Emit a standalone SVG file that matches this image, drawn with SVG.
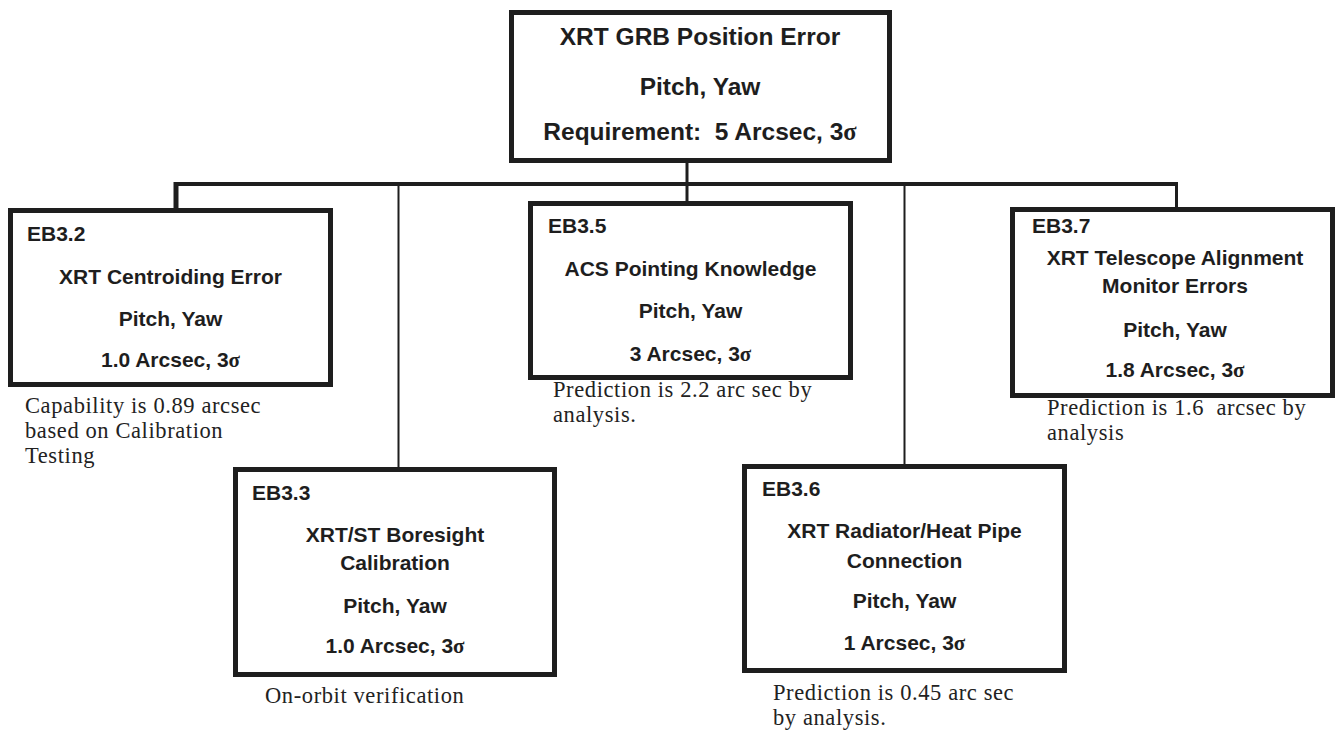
<svg xmlns="http://www.w3.org/2000/svg" width="1335" height="732" viewBox="0 0 1335 732">
<style>
.box{fill:#fff;stroke:#1e1e1e;stroke-width:5}
.b{font-family:"Liberation Sans",Arial,sans-serif;font-weight:bold;fill:#1e1e1e;font-size:21px}
.c{text-anchor:middle}
.t{font-size:24.5px}
.s{font-family:"Liberation Serif","Times New Roman",serif;font-size:22.5px;letter-spacing:0.6px;fill:#222}
.sg{font-family:"Liberation Serif","Times New Roman",serif;font-weight:bold}
.ln{stroke:#1e1e1e;fill:none}
</style>
<rect width="1335" height="732" fill="#fff"/>
<g id="connectors">
<line class="ln" x1="176" y1="184" x2="1178" y2="184" stroke-width="4"/>
<line class="ln" x1="687" y1="162" x2="687" y2="202" stroke-width="3"/>
<line class="ln" x1="176" y1="182" x2="176" y2="209" stroke-width="5"/>
<line class="ln" x1="1176.5" y1="182" x2="1176.5" y2="208" stroke-width="3"/>
<line class="ln" x1="398.5" y1="184" x2="398.5" y2="468" stroke-width="2"/>
<line class="ln" x1="904.5" y1="184" x2="904.5" y2="465" stroke-width="2"/>
</g>
<g id="top">
<rect class="box" x="511.5" y="12.5" width="378" height="148"/>
<text class="b c t" x="700" y="45">XRT GRB Position Error</text>
<text class="b c t" x="700" y="95">Pitch, Yaw</text>
<text class="b c t" x="700" y="140" xml:space="preserve">Requirement:  5 Arcsec, 3<tspan class="sg">σ</tspan></text>
</g>
<g id="eb32">
<rect class="box" x="10.5" y="210.5" width="320" height="174"/>
<text class="b" x="27" y="241">EB3.2</text>
<text class="b c" x="170.5" y="284">XRT Centroiding Error</text>
<text class="b c" x="170.5" y="326">Pitch, Yaw</text>
<text class="b c" x="170.5" y="367">1.0 Arcsec, 3<tspan class="sg">σ</tspan></text>
<text class="s" x="25" y="413">Capability is 0.89 arcsec</text>
<text class="s" x="25" y="438">based on Calibration</text>
<text class="s" x="25" y="463">Testing</text>
</g>
<g id="eb33">
<rect class="box" x="235.5" y="469.5" width="319" height="205"/>
<text class="b" x="252" y="500">EB3.3</text>
<text class="b c" x="395" y="542">XRT/ST Boresight</text>
<text class="b c" x="395" y="570">Calibration</text>
<text class="b c" x="395" y="613">Pitch, Yaw</text>
<text class="b c" x="395" y="653">1.0 Arcsec, 3<tspan class="sg">σ</tspan></text>
<text class="s" x="265" y="703">On-orbit verification</text>
</g>
<g id="eb35">
<rect class="box" x="530.5" y="203.5" width="320" height="174"/>
<text class="b" x="548" y="233">EB3.5</text>
<text class="b c" x="690.5" y="276">ACS Pointing Knowledge</text>
<text class="b c" x="690.5" y="318">Pitch, Yaw</text>
<text class="b c" x="690.5" y="361">3 Arcsec, 3<tspan class="sg">σ</tspan></text>
<text class="s" x="553" y="397">Prediction is 2.2 arc sec by</text>
<text class="s" x="553" y="422">analysis.</text>
</g>
<g id="eb36">
<rect class="box" x="744.5" y="466.5" width="320" height="204"/>
<text class="b" x="762" y="496">EB3.6</text>
<text class="b c" x="904.5" y="538">XRT Radiator/Heat Pipe</text>
<text class="b c" x="904.5" y="568">Connection</text>
<text class="b c" x="904.5" y="608">Pitch, Yaw</text>
<text class="b c" x="904.5" y="650">1 Arcsec, 3<tspan class="sg">σ</tspan></text>
<text class="s" x="773" y="700">Prediction is 0.45 arc sec</text>
<text class="s" x="773" y="725">by analysis.</text>
</g>
<g id="eb37">
<rect class="box" x="1012.5" y="209.5" width="320" height="186"/>
<text class="b" x="1032" y="233">EB3.7</text>
<text class="b c" x="1175" y="265">XRT Telescope Alignment</text>
<text class="b c" x="1175" y="293">Monitor Errors</text>
<text class="b c" x="1175" y="337">Pitch, Yaw</text>
<text class="b c" x="1175" y="377">1.8 Arcsec, 3<tspan class="sg">σ</tspan></text>
<text class="s" x="1047" y="415" xml:space="preserve">Prediction is 1.6  arcsec by</text>
<text class="s" x="1047" y="440">analysis</text>
</g>
</svg>
